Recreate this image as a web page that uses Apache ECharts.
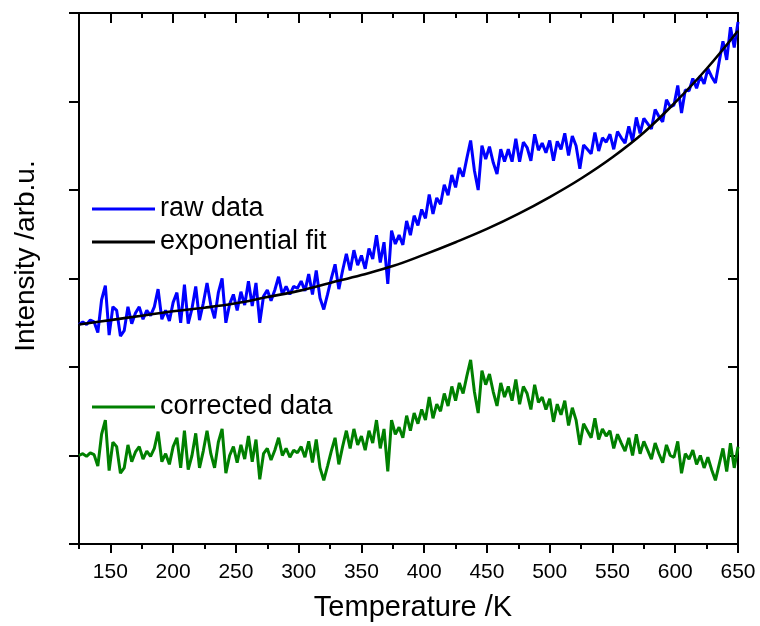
<!DOCTYPE html>
<html>
<head>
<meta charset="utf-8">
<script src="https://cdn.jsdelivr.net/npm/echarts@6/dist/echarts.min.js"></script>
<style>
html,body{margin:0;padding:0;background:#fff;}
#chart{width:760px;height:626px;}
</style>
</head>
<body>
<div id="chart"></div>
<script>
// Temperature grid (K)
var temps = [
125,128,131,134,137,140,143,146,149,152,
155,158,161,164,167,170,173,176,179,182,
185,188,191,194,197,200,203,206,209,212,
215,218,221,224,227,230,233,236,239,242,
245,248,251,254,257,260,263,266,269,272,
275,278,281,284,287,290,293,296,299,302,
305,308,311,314,317,320,323,326,329,332,
335,338,341,344,347,350,353,356,359,362,
365,368,371,374,377,380,383,386,389,392,
395,398,401,404,407,410,413,416,419,422,
425,428,431,434,437,440,443,446,449,452,
455,458,461,464,467,470,473,476,479,482,
485,488,491,494,497,500,503,506,509,512,
515,518,521,524,527,530,533,536,539,542,
545,548,551,554,557,560,563,566,569,572,
575,578,581,584,587,590,593,596,599,602,
605,608,611,614,617,620,623,626,629,632,
635,638,641,644,647,650
];
// raw data (arb.u.)
var rawData = [
2.48,2.51,2.48,2.53,2.51,2.39,2.76,2.92,2.36,2.68,
2.64,2.35,2.41,2.68,2.49,2.61,2.68,2.54,2.64,2.58,
2.68,2.88,2.54,2.64,2.52,2.73,2.84,2.50,2.93,2.49,
2.66,2.91,2.53,2.72,2.95,2.70,2.55,2.84,3.00,2.50,
2.71,2.82,2.64,2.85,2.70,2.97,2.69,2.95,2.50,2.80,
2.87,2.75,2.87,3.02,2.82,2.91,2.82,2.91,2.89,2.97,
2.86,3.05,2.82,3.09,2.78,2.65,2.82,3.00,3.16,2.88,
3.09,3.28,3.09,3.32,3.15,3.26,3.11,3.34,3.22,3.49,
3.18,3.41,2.94,3.54,3.39,3.49,3.38,3.65,3.49,3.71,
3.60,3.78,3.68,3.95,3.73,3.91,3.84,4.06,3.94,4.17,
4.03,4.25,4.15,4.36,4.56,4.22,4.00,4.50,4.35,4.49,
4.31,4.18,4.46,4.32,4.46,4.32,4.58,4.32,4.54,4.48,
4.33,4.63,4.45,4.53,4.42,4.56,4.33,4.55,4.46,4.64,
4.39,4.61,4.50,4.24,4.51,4.46,4.41,4.65,4.44,4.59,
4.54,4.63,4.46,4.66,4.59,4.53,4.72,4.55,4.82,4.64,
4.81,4.75,4.69,4.91,4.83,4.77,5.02,4.94,4.96,5.18,
4.87,5.13,5.12,5.26,5.15,5.29,5.20,5.37,5.28,5.21,
5.45,5.68,5.47,5.84,5.61,5.90
];
// corrected data (arb.u.)
var correctedData = [
1.00,1.02,0.99,1.03,1.01,0.88,1.24,1.40,0.83,1.15,
1.10,0.80,0.86,1.12,0.93,1.04,1.10,0.96,1.05,0.99,
1.08,1.27,0.93,1.02,0.90,1.10,1.20,0.86,1.28,0.84,
1.00,1.25,0.86,1.05,1.28,1.02,0.86,1.15,1.30,0.80,
1.00,1.10,0.92,1.12,0.96,1.22,0.93,1.18,0.73,1.02,
1.08,0.95,1.06,1.20,1.00,1.08,0.98,1.06,1.03,1.10,
0.98,1.16,0.92,1.18,0.86,0.72,0.88,1.05,1.20,0.90,
1.10,1.28,1.08,1.30,1.12,1.22,1.06,1.28,1.14,1.40,
1.08,1.30,0.82,1.40,1.24,1.32,1.20,1.45,1.28,1.48,
1.36,1.52,1.40,1.66,1.42,1.58,1.50,1.70,1.56,1.78,
1.62,1.82,1.70,1.90,2.08,1.72,1.48,1.96,1.80,1.92,
1.72,1.56,1.82,1.66,1.78,1.62,1.86,1.58,1.78,1.70,
1.52,1.80,1.60,1.66,1.52,1.64,1.38,1.58,1.46,1.62,
1.34,1.54,1.40,1.12,1.36,1.28,1.20,1.42,1.18,1.30,
1.22,1.28,1.08,1.24,1.14,1.05,1.20,1.00,1.24,1.02,
1.16,1.06,0.96,1.14,1.02,0.92,1.12,1.00,0.98,1.16,
0.80,1.02,0.96,1.06,0.90,1.00,0.86,0.98,0.84,0.72,
0.90,1.08,0.82,1.14,0.86,1.10
];
// exponential fit, read at 25 K steps
var fitTemps = [125,150,175,200,225,250,275,300,325,350,375,400,425,450,475,500,525,550,575,600,625,650];
var fitValues = [2.48,2.53,2.58,2.63,2.67,2.72,2.79,2.86,2.95,3.04,3.14,3.27,3.41,3.56,3.73,3.92,4.13,4.37,4.65,4.99,5.37,5.80];
// tick positions
var xMajorTicks = [150,200,250,300,350,400,450,500,550,600,650];
var xMinorTicks = [125,175,225,275,325,375,425,475,525,575,625];
var seriesNames = ['raw data','exponential fit','corrected data'];
var xTitle = 'Temperature /K';
var yTitle = 'Intensity /arb.u.';

function pairs(xs, ys){ return xs.map(function(x,i){ return [x, ys[i]]; }); }

var FONT = "'Liberation Sans', Arial, Helvetica, sans-serif";
var chart = echarts.init(document.getElementById('chart'), null, {renderer:'canvas'});
var axisLine = {show:true, lineStyle:{color:'#000', width:2}};
function xAx(pos, ticks, len, inside, line, labels){
  return {
    type:'value', position:pos, min:125, max:650, interval:25,
    axisLine: line ? axisLine : {show:false},
    axisTick:{show:true, inside:inside, length:len, customValues:ticks, lineStyle:{color:'#000', width:2}},
    axisLabel: labels ? {show:true, customValues:xMajorTicks, color:'#000', fontSize:21, fontFamily:FONT, margin:18} : {show:false},
    splitLine:{show:false}
  };
}
var option = {
  animation:false,
  backgroundColor:'#fff',
  grid:{left:79, right:22, top:13, bottom:82, containLabel:false},
  xAxis:[
    xAx('bottom', xMajorTicks, 9, false, true, true),
    xAx('bottom', xMinorTicks, 5, false, false, false),
    xAx('top', xMajorTicks, 10, true, true, false),
    xAx('top', xMinorTicks, 5, true, false, false)
  ],
  yAxis:[
    {type:'value', position:'left', min:0, max:6, interval:1, axisLine:axisLine,
     axisTick:{show:true, inside:false, length:10, lineStyle:{color:'#000', width:2}},
     axisLabel:{show:false}, splitLine:{show:false}},
    {type:'value', position:'right', min:0, max:6, interval:1, axisLine:axisLine,
     axisTick:{show:true, inside:true, length:10, lineStyle:{color:'#000', width:2}},
     axisLabel:{show:false}, splitLine:{show:false}}
  ],
  legend:[
    {data:[seriesNames[0], seriesNames[1]], orient:'vertical', left:92, top:195, padding:0,
     icon:'rect', itemWidth:63, itemHeight:3, itemGap:5,
     textStyle:{color:'#000', fontSize:27, fontFamily:FONT, lineHeight:28}},
    {data:[seriesNames[2]], orient:'vertical', left:92, top:393, padding:0,
     icon:'rect', itemWidth:63, itemHeight:3,
     textStyle:{color:'#000', fontSize:27, fontFamily:FONT, lineHeight:28}}
  ],
  series:[
    {name:seriesNames[0], type:'line', data:pairs(temps, rawData), showSymbol:false, symbol:'none',
     color:'#0000ff', lineStyle:{color:'#0000ff', width:3}, z:2},
    {name:seriesNames[1], type:'line', data:pairs(fitTemps, fitValues), showSymbol:false, symbol:'none', smooth:0.4,
     color:'#000000', lineStyle:{color:'#000', width:2.6}, z:3},
    {name:seriesNames[2], type:'line', data:pairs(temps, correctedData), showSymbol:false, symbol:'none',
     color:'#008000', lineStyle:{color:'#008000', width:3}, z:2}
  ],
  graphic:[
    {type:'text', x:413, y:608, style:{text:xTitle, fill:'#000', font:'29px ' + FONT, textAlign:'center', textVerticalAlign:'middle'}},
    {type:'text', x:26, y:256, rotation:Math.PI/2, style:{text:yTitle, fill:'#000', font:'28px ' + FONT, textAlign:'center', textVerticalAlign:'middle'}}
  ]
};
chart.setOption(option);
</script>
</body>
</html>
